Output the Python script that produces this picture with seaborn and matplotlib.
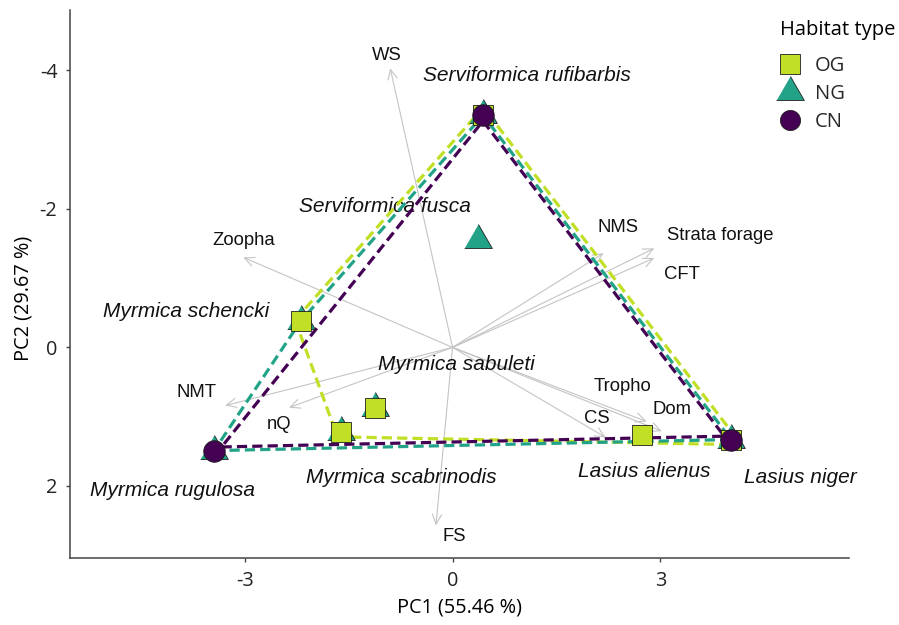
import numpy as np
import pandas as pd
import matplotlib
matplotlib.use("Agg")
import matplotlib.pyplot as plt
from matplotlib.lines import Line2D
import seaborn as sns

# species scores on the first two PCs
species = ["Serviformica rufibarbis", "Serviformica fusca", "Myrmica schencki",
           "Myrmica rugulosa", "Myrmica scabrinodis", "Myrmica sabuleti",
           "Lasius alienus", "Lasius niger"]
pc1 = [0.44, 0.36, -2.19, -3.44, -1.61, -1.12, 2.73, 4.02]
pc2 = [-3.35, -1.55, -0.38, 1.49, 1.22, 0.87, 1.27, 1.33]

# species present in each habitat type
habitats = ["OG", "NG", "CN"]
og_species = ["Serviformica rufibarbis", "Myrmica schencki", "Myrmica scabrinodis",
              "Myrmica sabuleti", "Lasius alienus", "Lasius niger"]
ng_species = ["Serviformica rufibarbis", "Serviformica fusca", "Myrmica schencki",
              "Myrmica rugulosa", "Myrmica scabrinodis", "Myrmica sabuleti", "Lasius niger"]
cn_species = ["Serviformica rufibarbis", "Myrmica rugulosa", "Lasius niger"]

# trait loadings (arrows)
traits = ["WS", "Zoopha", "NMS", "Strata forage", "CFT", "NMT", "nQ", "FS",
          "Tropho", "Dom", "CS"]
load_pc1 = [-0.90, -3.02, 2.18, 2.91, 2.91, -3.28, -2.36, -0.24, 2.80, 3.02, 2.21]
load_pc2 = [-4.03, -1.30, -1.36, -1.43, -1.29, 0.84, 0.87, 2.57, 1.07, 1.21, 1.30]

# label placement (layout only)
sp_lab_x = [1.08, -0.98, -3.85, -4.04, -0.74, 0.06, 2.76, 5.02]
sp_lab_y = [-3.93, -2.03, -0.52, 2.06, 1.88, 0.25, 1.79, 1.88]
tr_lab_x = [-0.95, -3.02, 2.39, 3.86, 3.31, -3.70, -2.50, 0.03, 2.45, 3.16, 2.08]
tr_lab_y = [-4.22, -1.55, -1.73, -1.61, -1.05, 0.65, 1.12, 2.73, 0.57, 0.89, 1.03]

colors = {"OG": "#C0DF25", "NG": "#22A387", "CN": "#440154"}
tri = [(-1, -0.577), (1, -0.577), (0, 1.155)]
markers = {"OG": "s", "NG": tri, "CN": "o"}
msize = {"OG": 13.7, "NG": 23.0, "CN": 15.5}
hull_pad = {"OG": 5.0, "NG": 0.0, "CN": -3.5}  # pixels
draw_order = ["NG", "OG", "CN"]

sp_df = pd.DataFrame({"species": species, "PC1": pc1, "PC2": pc2})
members = {"OG": og_species, "NG": ng_species, "CN": cn_species}
df = pd.concat([sp_df[sp_df.species.isin(members[h])].assign(habitat=h) for h in habitats],
               ignore_index=True)


def hull_outline(ax, x, y, pad):
    """Convex hull in display space, pushed outwards by pad pixels."""
    pts = sorted(map(tuple, ax.transData.transform(np.column_stack([x, y]))))

    def cross(o, a, b):
        return (a[0] - o[0]) * (b[1] - o[1]) - (a[1] - o[1]) * (b[0] - o[0])

    lower, upper = [], []
    for p in pts:
        while len(lower) >= 2 and cross(lower[-2], lower[-1], p) <= 0:
            lower.pop()
        lower.append(p)
    for p in reversed(pts):
        while len(upper) >= 2 and cross(upper[-2], upper[-1], p) <= 0:
            upper.pop()
        upper.append(p)
    h = np.array(lower[:-1] + upper[:-1])
    n = len(h)
    out = []
    for i in range(n):
        p0, p1, p2 = h[i - 1], h[i], h[(i + 1) % n]
        e1, e2 = p1 - p0, p2 - p1
        n1 = np.array([e1[1], -e1[0]]) / np.hypot(*e1)
        n2 = np.array([e2[1], -e2[0]]) / np.hypot(*e2)
        m = n1 + n2
        m = m / np.hypot(*m)
        out.append(p1 + m * pad / np.dot(m, n1))
    out.append(out[0])
    return ax.transData.inverted().transform(np.array(out))


sns.set_style("ticks")
plt.rcParams["font.family"] = ["Open Sans", "DejaVu Sans"]
plt.rcParams["axes.unicode_minus"] = False

fig = plt.figure(figsize=(8.99, 6.25), dpi=100)
ax = fig.add_axes([70 / 899, 67 / 625, 779 / 899, 548 / 625])
xlim, ylim = (-5.52, 5.72), (3.04, -4.87)
ax.set_xlim(*xlim)
ax.set_ylim(*ylim)

# loading arrows + labels
for t, lx, ly, tx, ty in zip(traits, load_pc1, load_pc2, tr_lab_x, tr_lab_y):
    ax.annotate("", xy=(lx, ly), xytext=(0, 0), zorder=1,
                arrowprops=dict(arrowstyle="->,head_length=0.7,head_width=0.33",
                                color="#C4C4C4", lw=0.8, shrinkA=0, shrinkB=0))
    ax.text(tx, ty, t, ha="center", va="center", fontsize=13.3,
            family="Liberation Sans", color="#111111", zorder=2)

for s, tx, ty in zip(species, sp_lab_x, sp_lab_y):
    ax.text(tx, ty, s, ha="center", va="center", fontsize=15, style="italic",
            family="Liberation Sans", color="#111111", zorder=2)

# dashed hulls per habitat
for h in habitats:
    sub = df[df.habitat == h]
    ring = hull_outline(ax, sub.PC1.values, sub.PC2.values, hull_pad[h])
    ax.plot(ring[:, 0], ring[:, 1], ls=(0, (3.2, 1.6)), lw=2.3,
            color=colors[h], zorder=3)

# points
for i, h in enumerate(draw_order):
    sns.scatterplot(data=df[df.habitat == h], x="PC1", y="PC2", marker=markers[h],
                    s=msize[h] ** 2, color=colors[h], edgecolor="#1E1E1E",
                    linewidth=0.6, ax=ax, zorder=4 + i, legend=False)

ax.set_xlim(*xlim)
ax.set_ylim(*ylim)
ax.set_xticks([-3, 0, 3])
ax.set_yticks([-4, -2, 0, 2])
ax.set_xlabel("PC1 (55.46 %)", fontsize=14.3, color="black", labelpad=5)
ax.set_ylabel("PC2 (29.67 %)", fontsize=14.3, color="black")
ax.yaxis.set_label_coords(-0.047, 0.473)
ax.tick_params(axis="both", labelsize=14.3, labelcolor="#222222", length=3,
               width=1, color="#444444", pad=6)
sns.despine(ax=ax)
for side in ["left", "bottom"]:
    ax.spines[side].set_color("#444444")
    ax.spines[side].set_linewidth(1.1)

# legend
fig.text(780 / 899, 1 - 30 / 625, "Habitat type", fontsize=14.5, ha="left",
         va="center", color="black")
handles = [Line2D([], [], ls="none", marker=markers[h],
                  markersize=(14.5 if h == "CN" else msize[h]),
                  markerfacecolor=colors[h], markeredgecolor="#1E1E1E",
                  markeredgewidth=0.6, label=h) for h in habitats]
ax.legend(handles=handles, loc="upper left",
          bbox_to_anchor=(780 / 899, 1 - 56 / 625), bbox_transform=fig.transFigure,
          frameon=False, fontsize=14.5, borderpad=0, borderaxespad=0,
          handlelength=0.95, handletextpad=0.8, labelspacing=0.4)

fig.savefig("out.png", dpi=100)
